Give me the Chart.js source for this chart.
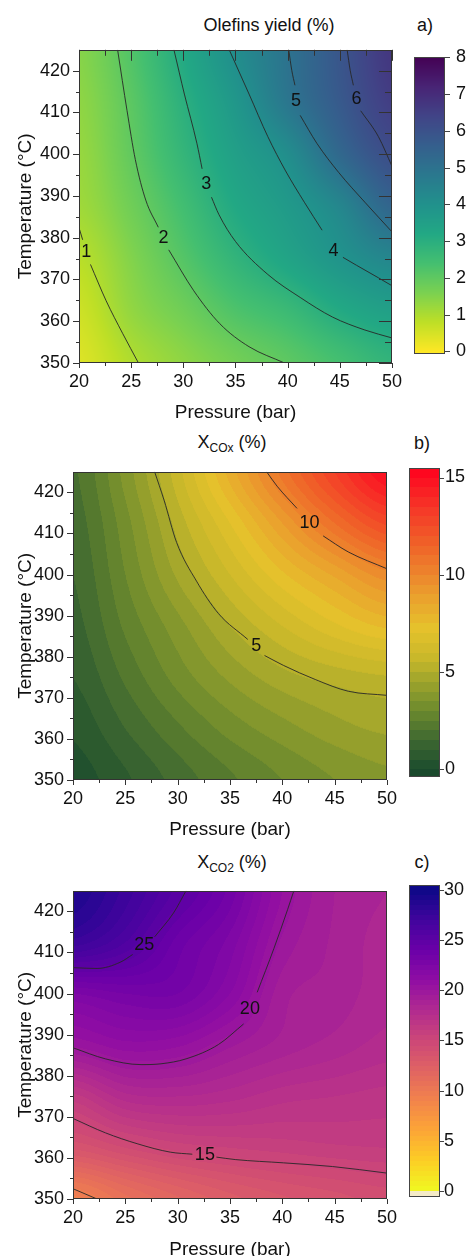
<!DOCTYPE html>
<html><head><meta charset="utf-8">
<script src="https://cdn.jsdelivr.net/npm/chart.js@4.4.1/dist/chart.umd.min.js"></script>
<style>
html,body{margin:0;padding:0;background:#fff;}
body{width:474px;height:1256px;position:relative;overflow:hidden;font-family:"Liberation Sans",Arial,Helvetica,sans-serif;color:#111;}
canvas{position:absolute;}
.lbl{position:absolute;font-size:18px;line-height:18px;white-space:nowrap;transform:translate(-50%,-50%);}
.lbl sub{font-size:12px;vertical-align:-4px;line-height:0;}
</style></head><body>
<div class="lbl" style="left:269px;top:25px">Olefins yield (%)</div>
<div class="lbl" style="left:425px;top:25px">a)</div>
<div class="lbl" style="left:232px;top:442px">X<sub>COx</sub> (%)</div>
<div class="lbl" style="left:422px;top:443px">b)</div>
<div class="lbl" style="left:232px;top:862px">X<sub>CO2</sub> (%)</div>
<div class="lbl" style="left:422px;top:862px">c)</div>
<canvas id="mainA" width="410" height="400" style="left:0;top:30px"></canvas>
<canvas id="barA" width="69" height="341" style="left:405px;top:35px"></canvas>
<canvas id="mainB" width="405" height="390" style="left:0;top:452px"></canvas>
<canvas id="barB" width="74" height="341" style="left:400px;top:452px"></canvas>
<canvas id="mainC" width="405" height="400" style="left:0;top:871px"></canvas>
<canvas id="barC" width="74" height="342" style="left:400px;top:870px"></canvas>
<script>
// ---------- shared axes ----------
const pressure = [20, 25, 30, 35, 40, 45, 50];
const temperature = [350, 362.5, 375, 387.5, 400, 412.5, 425];
const pressureTicks = [20, 25, 30, 35, 40, 45, 50];
const temperatureTicks = [350, 360, 370, 380, 390, 400, 410, 420];

// ---------- a) Olefins yield (%) : rows = temperature 350 -> 425, cols = pressure ----------
const olefinsYield = [
  [0.40, 0.95, 1.35, 1.70, 2.02, 2.40, 2.80],
  [0.60, 1.30, 1.75, 2.25, 2.60, 3.15, 3.50],
  [0.85, 1.50, 2.15, 2.80, 3.35, 3.90, 4.35],
  [1.15, 1.75, 2.45, 3.20, 3.70, 4.35, 5.40],
  [1.25, 1.95, 2.75, 3.50, 4.12, 5.30, 6.12],
  [1.35, 2.05, 2.95, 3.80, 4.85, 5.75, 6.55],
  [1.45, 2.20, 3.18, 4.11, 4.98, 5.88, 6.74]
];
const olefinsBarTicks = [0, 1, 2, 3, 4, 5, 6, 7, 8];
const olefinsLine1 = [[20.05,382],[20.35,379.5],null,[21.1,373.6],[22.6,364.9],[24.2,357],[25.7,350]];
const olefinsLine2 = [[23.7,425],[24.6,410.5],[25.4,398.7],[26.4,389],[27.6,382.5],null,[28.6,377.1],[31,367.3],[33.5,359.4],[36.3,353.9],[39.7,350]];
const olefinsLine3 = [[29.1,425],[30.1,414.4],[31.3,402.6],[31.8,396.5],null,[32.7,389.7],[33.4,385.6],[35,379.1],[38.1,371.2],[41.2,365.7],[44.3,361],[47.4,357.9],[50,356]];
const olefinsLine4 = [[34.4,425],[36.3,414.4],[38.1,404.2],[39.8,396],[41.6,388.5],[43.3,381.8],null,[45.3,375.3],[46.6,373.4],[48.7,370.4],[50,368.5]];
const olefinsLine5 = [[40.1,425],[40.4,420],[40.7,416.5],null,[41.2,409.3],[42.8,402.6],[44.9,395.6],[47.4,388.5],[50,381.4]];
const olefinsLine6 = [[45.7,425],[46.0,420],[46.3,416.5],null,[47.0,410.4],[48.7,404.2],[50,397.1]];
const olefinsLabels = [["1",20.7,376.5],["2",28.1,379.9],["3",32.2,392.8],["4",44.4,376.9],["5",40.8,412.8],["6",46.6,413.2]];

// ---------- b) X_COx (%) ----------
const coxConversion = [
  [0.20, 0.90, 1.70, 2.40, 3.00, 3.50, 3.85],
  [0.60, 1.50, 2.40, 3.20, 3.80, 4.30, 4.60],
  [1.00, 2.10, 3.20, 4.10, 4.80, 5.20, 5.45],
  [1.30, 2.60, 3.80, 5.00, 6.00, 6.90, 7.60],
  [1.50, 3.00, 4.60, 6.00, 7.40, 8.60, 9.80],
  [1.70, 3.30, 5.20, 7.00, 9.00, 11.00, 12.60],
  [1.90, 3.70, 5.80, 8.20, 10.70, 13.00, 15.00]
];
const coxBarTicks = [0, 5, 10, 15];
const coxLine5 = [[27.8,425],[28.7,418.1],[29.9,407.8],[31.8,398.4],[33.9,390.5],[36.7,384.2],null,[38.3,380.3],[40.1,377.9],[43.2,374.4],[46.3,371.6],[50,370.6]];
const coxLine10 = [[38.5,425],[39.5,421.5],[41.4,416.1],null,[43.9,409.4],[46.3,405.5],[50,401.4]];
const coxLabels = [["5",37.5,382.6],["10",42.6,412.6]];

// ---------- c) X_CO2 (%) ----------
const co2Conversion = [
  [9.3, 10.8, 11.9, 12.8, 13.4, 13.8, 14.2],
  [13.6, 14.5, 15.2, 15.5, 15.7, 15.9, 16.0],
  [16.3, 17.8, 18.0, 17.7, 17.2, 17.0, 16.8],
  [20.1, 20.8, 20.6, 19.6, 18.8, 18.3, 17.8],
  [22.5, 23.0, 23.0, 21.5, 19.2, 18.8, 18.2],
  [27.3, 26.0, 23.8, 22.3, 19.9, 18.9, 18.3],
  [29.0, 27.3, 25.3, 23.3, 20.5, 19.0, 18.5]
];
const co2BarTicks = [0, 5, 10, 15, 20, 25, 30];
const co2Line10 = [[20,352.5],[22.3,350]];
const co2Line15 = [[20,369.6],[23.1,366.1],[26.2,363.4],[29.3,361.4],[31.4,360.9],null,[33.7,360.2],[35.5,359.6],[40.1,358.8],[44.8,357.9],[50,356.3]];
const co2Line20 = [[20,386.8],[23.1,384.1],[26.5,382.7],[28.4,382.9],[30.8,384.1],[33.9,387.6],[36.3,392.6],null,[37.6,400.3],[39.2,411],[40.5,420.4],[41.1,425]];
const co2Line25 = [[20,406.3],[22.3,406.1],[24.5,407.6],[25.7,409.5],null,[27.8,413.8],[29.6,419.6],[30.8,425]];
const co2Labels = [["25",26.8,411.8],["20",36.9,396.2],["15",32.6,360.6]];

// ---------- colour maps ----------
const viridis = [[68,1,84],[72,36,117],[65,68,135],[53,95,141],[42,120,142],[33,145,140],[34,168,132],[68,191,112],[122,209,81],[189,223,38],[253,231,37]];
const plasma = [[13,8,135],[65,4,157],[106,0,168],[143,13,164],[177,42,144],[204,71,120],[225,100,98],[242,132,75],[252,166,54],[252,206,37],[240,249,33]];
const coxStops = [[-0.5,[24,70,42]],[0,[27,76,45]],[1.5,[62,104,48]],[3,[108,138,45]],[4.6,[160,165,44]],[5.6,[198,183,42]],[7.2,[229,194,44]],[8.9,[234,160,45]],[10,[236,134,45]],[11.7,[240,95,40]],[13.4,[245,55,40]],[15.5,[255,0,30]]];

function evenMap(stops, t){
  t = Math.max(0, Math.min(1, t));
  const f = t*(stops.length-1), i = Math.min(Math.floor(f), stops.length-2), u = f-i;
  const a = stops[i], b = stops[i+1];
  return [a[0]+(b[0]-a[0])*u, a[1]+(b[1]-a[1])*u, a[2]+(b[2]-a[2])*u];
}
function valueMap(stops, v){
  if (v <= stops[0][0]) return stops[0][1];
  for (let i=1;i<stops.length;i++){
    if (v <= stops[i][0]){
      const u = (v-stops[i-1][0])/(stops[i][0]-stops[i-1][0]);
      const a = stops[i-1][1], b = stops[i][1];
      return [a[0]+(b[0]-a[0])*u, a[1]+(b[1]-a[1])*u, a[2]+(b[2]-a[2])*u];
    }
  }
  return stops[stops.length-1][1];
}
const band = (v, step) => (Math.floor(v/step)+0.5)*step;
const colorA = v => evenMap(viridis, 1 - v/8);
const colorB = v => valueMap(coxStops, band(v, 0.5));
const colorC = v => v < 0 ? [244,234,200] : evenMap(plasma, 1 - band(v, 0.5)/30);

// ---------- grid sampling for shading ----------
function cr(p0,p1,p2,p3,t){ return 0.5*((2*p1)+(-p0+p2)*t+(2*p0-5*p1+4*p2-p3)*t*t+(-p0+3*p1-3*p2+p3)*t*t*t); }
function sample(z, xv, yv){
  const nx = pressure.length, ny = temperature.length;
  let fx = (xv-pressure[0])/(pressure[1]-pressure[0]); fx = Math.max(0, Math.min(nx-1, fx));
  let fy = (yv-temperature[0])/(temperature[1]-temperature[0]); fy = Math.max(0, Math.min(ny-1, fy));
  const ix = Math.min(Math.floor(fx), nx-2), iy = Math.min(Math.floor(fy), ny-2);
  const tx = fx-ix, ty = fy-iy;
  const g = (r,c) => z[Math.max(0,Math.min(ny-1,r))][Math.max(0,Math.min(nx-1,c))];
  const rows = [];
  for (let k=-1;k<=2;k++){ const r = iy+k; rows.push(cr(g(r,ix-1),g(r,ix),g(r,ix+1),g(r,ix+2),tx)); }
  return cr(rows[0],rows[1],rows[2],rows[3],ty);
}

Chart.defaults.font.family = '"Liberation Sans", Arial, Helvetica, sans-serif';
Chart.defaults.color = '#111';

function fieldPlugin(panel){
  return { id:'field', beforeDraw(chart){
    const {ctx, chartArea:a, scales:{x,y}} = chart;
    const w = Math.round(a.right-a.left), h = Math.round(a.bottom-a.top);
    const off = document.createElement('canvas'); off.width = w; off.height = h;
    const octx = off.getContext('2d'); const img = octx.createImageData(w,h);
    for (let j=0;j<h;j++){
      const T = y.getValueForPixel(a.top+j+0.5);
      for (let i=0;i<w;i++){
        const P = x.getValueForPixel(a.left+i+0.5);
        const c = panel.color(sample(panel.values, P, T));
        const k = (j*w+i)*4;
        img.data[k]=c[0]; img.data[k+1]=c[1]; img.data[k+2]=c[2]; img.data[k+3]=255;
      }
    }
    octx.putImageData(img,0,0);
    ctx.drawImage(off, a.left, a.top);
  }};
}
function framePlugin(panel){
  return { id:'frame', afterDraw(chart){
    const {ctx, chartArea:a, scales:{x,y}} = chart;
    ctx.save(); ctx.strokeStyle = '#333'; ctx.lineWidth = 1; ctx.beginPath();
    for (let i=0;i<pressureTicks.length;i++){
      const vals = [pressureTicks[i]]; if (i<pressureTicks.length-1) vals.push((pressureTicks[i]+pressureTicks[i+1])/2);
      vals.forEach((v,n)=>{
        const px = Math.round(x.getPixelForValue(v))+0.5; const major = n===0;
        ctx.moveTo(px, a.bottom); ctx.lineTo(px, a.bottom+(major?5:3));
        if (panel.mirror){ ctx.moveTo(px, a.top); ctx.lineTo(px, a.top+(major?11:6)); }
      });
    }
    for (let i=0;i<temperatureTicks.length;i++){
      const vals = [temperatureTicks[i], temperatureTicks[i]+5];
      vals.forEach((v,n)=>{
        if (v >= 425) return;
        const py = Math.round(y.getPixelForValue(v))+0.5; const major = n===0;
        ctx.moveTo(a.left, py); ctx.lineTo(a.left-(major?6:3), py);
        if (panel.mirror){ ctx.moveTo(a.right, py); ctx.lineTo(a.right-(major?13:7), py); }
      });
    }
    ctx.stroke();
    ctx.strokeRect(Math.round(a.left)+0.5, Math.round(a.top)+0.5, Math.round(a.right-a.left)-1, Math.round(a.bottom-a.top)-1);
    ctx.restore();
  }};
}
function labelPlugin(panel){
  return { id:'clabels', afterDatasetsDraw(chart){
    const {ctx, scales:{x,y}} = chart;
    ctx.save(); ctx.font = '18px "Liberation Sans", Arial, sans-serif'; ctx.fillStyle = '#111';
    ctx.textAlign = 'center'; ctx.textBaseline = 'middle';
    panel.labels.forEach(l => ctx.fillText(l[0], x.getPixelForValue(l[1]), y.getPixelForValue(l[2])));
    ctx.restore();
  }};
}

function buildMain(id, panel){
  const datasets = [];
  panel.lines.forEach(line => {
    let seg = [];
    const flush = () => {
      if (seg.length > 1) datasets.push({data:seg, showLine:true, pointRadius:0, borderColor:'rgba(40,40,40,0.9)', borderWidth:1, cubicInterpolationMode:'monotone', fill:false});
      seg = [];
    };
    line.forEach(p => { if (p === null) flush(); else seg.push({x:p[0], y:p[1]}); });
    flush();
  });
  return new Chart(document.getElementById(id), {
    type:'scatter', data:{datasets},
    options:{
      responsive:false, animation:false, events:[],
      layout:{padding:panel.pad},
      plugins:{legend:{display:false}, tooltip:{enabled:false}},
      scales:{
        x:{type:'linear', min:20, max:50,
          afterBuildTicks:s=>{ s.ticks = pressureTicks.map(v=>({value:v})); },
          ticks:{font:{size:18}, color:'#111', padding:8, maxRotation:0, autoSkip:false},
          grid:{display:false, drawTicks:false}, border:{display:false},
          title:{display:true, text:'Pressure (bar)', font:{size:19}, color:'#111', padding:{top:0, bottom:panel.xTitlePad}},
          afterFit:s=>{ s.height = panel.xH; }},
        y:{type:'linear', min:350, max:425,
          afterBuildTicks:s=>{ s.ticks = temperatureTicks.map(v=>({value:v})); },
          ticks:{font:{size:18}, color:'#111', padding:9, autoSkip:false},
          grid:{display:false, drawTicks:false}, border:{display:false},
          title:{display:true, text:'Temperature (°C)', font:{size:19}, color:'#111', padding:{top:panel.yTitlePad, bottom:0}},
          afterFit:s=>{ s.width = panel.yW; }}
      }
    },
    plugins:[fieldPlugin(panel), labelPlugin(panel), framePlugin(panel)]
  });
}

function buildBar(id, bar){
  return new Chart(document.getElementById(id), {
    type:'scatter', data:{datasets:[]},
    options:{
      responsive:false, animation:false, events:[],
      layout:{padding:bar.pad},
      plugins:{legend:{display:false}, tooltip:{enabled:false}},
      scales:{
        x:{display:false, min:0, max:1},
        y:{position:'right', min:bar.min, max:bar.max,
          afterBuildTicks:s=>{ s.ticks = bar.ticks.map(v=>({value:v})); },
          ticks:{font:{size:18}, color:'#111', padding:bar.labelPad, autoSkip:false},
          grid:{display:false, drawTicks:false}, border:{display:false},
          afterFit:s=>{ s.width = bar.axisW; }}
      }
    },
    plugins:[{ id:'cbar', beforeDraw(chart){
      const {ctx, chartArea:a, scales:{y}} = chart;
      for (let py=Math.round(a.top); py<Math.round(a.bottom); py++){
        const c = bar.color(y.getValueForPixel(py+0.5));
        ctx.fillStyle = 'rgb('+Math.round(c[0])+','+Math.round(c[1])+','+Math.round(c[2])+')';
        ctx.fillRect(a.left, py, a.right-a.left, 1);
      }
    }, afterDraw(chart){
      const {ctx, chartArea:a, scales:{y}} = chart;
      ctx.save(); ctx.strokeStyle = '#444'; ctx.lineWidth = 1;
      ctx.strokeRect(Math.round(a.left)+0.5, Math.round(a.top)+0.5, Math.round(a.right-a.left)-1, Math.round(a.bottom-a.top)-1);
      ctx.beginPath();
      bar.ticks.forEach(v=>{ const py = Math.round(y.getPixelForValue(v))+0.5; ctx.moveTo(a.right, py); ctx.lineTo(a.right+bar.tickLen, py); });
      ctx.stroke(); ctx.restore();
    }}]
  });
}

buildMain('mainA', {values:olefinsYield, color:colorA, lines:[olefinsLine1,olefinsLine2,olefinsLine3,olefinsLine4,olefinsLine5,olefinsLine6], labels:olefinsLabels, mirror:true,
  pad:{left:0, top:15, right:9, bottom:0}, yW:79, xH:67, xTitlePad:6, yTitlePad:14});
buildBar('barA', {min:-0.076, max:8.018, ticks:olefinsBarTicks, color:colorA, pad:{left:9, top:10, right:0, bottom:10}, axisW:29, labelPad:11, tickLen:5});

buildMain('mainB', {values:coxConversion, color:colorB, lines:[coxLine5, coxLine10], labels:coxLabels, mirror:false,
  pad:{left:0, top:10, right:9, bottom:0}, yW:73, xH:62, xTitlePad:1, yTitlePad:14});
buildBar('barB', {min:-0.4, max:15.5, ticks:coxBarTicks, color:colorB, pad:{left:9, top:10, right:0, bottom:10}, axisW:34, labelPad:5, tickLen:4});

buildMain('mainC', {values:co2Conversion, color:colorC, lines:[co2Line10, co2Line15, co2Line20, co2Line25], labels:co2Labels, mirror:false,
  pad:{left:0, top:10, right:9, bottom:0}, yW:73, xH:72, xTitlePad:10, yTitlePad:14});
buildBar('barC', {min:-0.58, max:30.48, ticks:co2BarTicks, color:colorC, pad:{left:9, top:10, right:0, bottom:10}, axisW:34, labelPad:4, tickLen:4});
</script>
</body></html>
